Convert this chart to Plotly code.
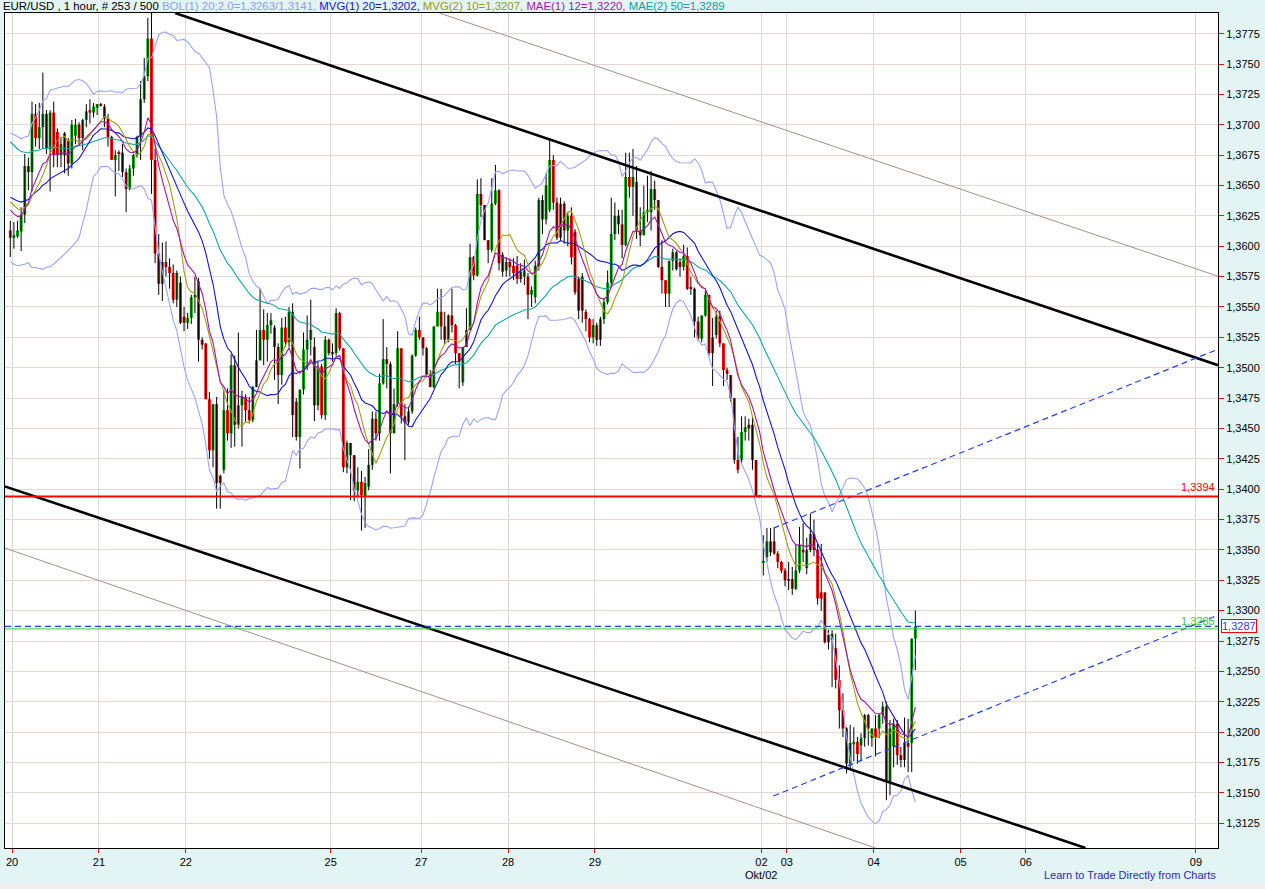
import numpy as np
import plotly.graph_objects as go

# ---------------- data (prices in 1/10000, i.e. pips) ----------------
open_p = [
    13613, 13607, 13608, 13612, 13626, 13666, 13661, 13709, 13689, 13698,
    13709, 13680, 13710, 13694, 13675, 13693, 13687, 13668, 13691, 13700,
    13689, 13704, 13712, 13710, 13714, 13717, 13715, 13705, 13690, 13671,
    13677, 13677, 13661, 13647, 13664, 13675, 13690, 13721, 13740, 13771,
    13671, 13594, 13569, 13587, 13583, 13578, 13556, 13570, 13542, 13537,
    13541, 13558, 13571, 13523, 13520, 13474, 13432, 13470, 13411, 13416,
    13465, 13446, 13502, 13453, 13469, 13476, 13465, 13457, 13484, 13506,
    13531, 13523, 13535, 13533, 13517, 13494, 13533, 13521, 13546, 13472,
    13443, 13482, 13515, 13523, 13517, 13469, 13501, 13461, 13523, 13513,
    13512, 13545, 13516, 13418, 13438, 13428, 13399, 13406, 13394, 13402,
    13420, 13458, 13446, 13487, 13507, 13503, 13446, 13470, 13516, 13460,
    13455, 13464, 13510, 13531, 13525, 13516, 13494, 13484, 13534, 13546,
    13534, 13523, 13543, 13535, 13512, 13488, 13517, 13531, 13591, 13576,
    13643, 13634, 13605, 13597, 13635, 13646, 13593, 13580, 13587, 13584,
    13584, 13573, 13575, 13575, 13560, 13558, 13584, 13638, 13622, 13630,
    13671, 13636, 13607, 13635, 13613, 13625, 13612, 13573, 13575, 13546,
    13540, 13525, 13535, 13523, 13540, 13554, 13570, 13610, 13625, 13618,
    13601, 13657, 13649, 13653, 13613, 13609, 13628, 13628, 13647, 13638,
    13583, 13572, 13561, 13588, 13595, 13587, 13583, 13592, 13566, 13565,
    13538, 13524, 13543, 13560, 13525, 13527, 13542, 13520, 13498, 13494,
    13475, 13424, 13424, 13447, 13453, 13453, 13424, 13395, 13340, 13344,
    13357, 13357, 13347, 13340, 13333, 13325, 13326, 13318, 13333, 13350,
    13335, 13350, 13363, 13350, 13315, 13315, 13274, 13276, 13269, 13243,
    13218, 13203, 13174, 13190, 13192, 13189, 13195, 13214, 13195, 13203,
    13203, 13214, 13221, 13159, 13188, 13207, 13181, 13177, 13191, 13191,
    13277,
]
high_p = [
    13621, 13620, 13621, 13632, 13676, 13673, 13719, 13717, 13718, 13743,
    13712, 13712, 13719, 13697, 13690, 13694, 13689, 13704, 13705, 13702,
    13705, 13717, 13721, 13718, 13717, 13718, 13717, 13709, 13691, 13679,
    13679, 13684, 13664, 13667, 13676, 13691, 13736, 13755, 13788, 13792,
    13680, 13610, 13603, 13604, 13590, 13585, 13580, 13575, 13550, 13545,
    13560, 13575, 13574, 13525, 13520, 13480, 13470, 13476, 13412, 13481,
    13483, 13511, 13510, 13529, 13481, 13478, 13476, 13485, 13531, 13565,
    13548, 13545, 13545, 13535, 13520, 13541, 13542, 13550, 13553, 13475,
    13482, 13529, 13543, 13556, 13525, 13505, 13503, 13526, 13524, 13520,
    13549, 13546, 13516, 13440, 13438, 13428, 13418, 13415, 13410, 13433,
    13464, 13464, 13495, 13540, 13517, 13505, 13483, 13530, 13516, 13470,
    13468, 13511, 13533, 13542, 13525, 13517, 13498, 13534, 13565, 13565,
    13546, 13544, 13565, 13536, 13512, 13517, 13549, 13602, 13592, 13655,
    13656, 13634, 13605, 13656, 13667, 13647, 13595, 13591, 13590, 13590,
    13592, 13586, 13589, 13578, 13567, 13588, 13640, 13642, 13660, 13687,
    13675, 13640, 13640, 13637, 13628, 13632, 13614, 13575, 13578, 13548,
    13541, 13540, 13537, 13542, 13557, 13580, 13640, 13636, 13630, 13630,
    13677, 13677, 13680, 13666, 13632, 13650, 13658, 13662, 13654, 13638,
    13605, 13572, 13588, 13598, 13596, 13590, 13601, 13599, 13575, 13566,
    13542, 13543, 13564, 13560, 13541, 13547, 13547, 13520, 13500, 13494,
    13475, 13443, 13460, 13460, 13458, 13460, 13424, 13395, 13362, 13368,
    13368, 13368, 13349, 13341, 13335, 13340, 13336, 13354, 13369, 13372,
    13360, 13380, 13375, 13355, 13355, 13315, 13284, 13284, 13281, 13255,
    13232, 13204, 13206, 13204, 13196, 13199, 13215, 13215, 13203, 13214,
    13215, 13225, 13225, 13210, 13211, 13210, 13188, 13212, 13211, 13277,
    13300,
]
low_p = [
    13591, 13598, 13607, 13596, 13619, 13646, 13645, 13682, 13680, 13680,
    13676, 13645, 13665, 13665, 13665, 13660, 13658, 13664, 13684, 13683,
    13679, 13698, 13701, 13706, 13708, 13715, 13698, 13682, 13671, 13641,
    13662, 13657, 13628, 13646, 13658, 13673, 13671, 13718, 13736, 13643,
    13586, 13560, 13555, 13575, 13565, 13553, 13550, 13536, 13530, 13532,
    13536, 13545, 13505, 13515, 13474, 13425, 13418, 13384, 13384, 13413,
    13440, 13434, 13435, 13450, 13435, 13455, 13455, 13455, 13484, 13506,
    13502, 13505, 13528, 13490, 13470, 13486, 13517, 13517, 13443, 13440,
    13417, 13478, 13498, 13510, 13456, 13465, 13458, 13457, 13510, 13505,
    13510, 13514, 13414, 13413, 13391, 13390, 13394, 13366, 13368, 13399,
    13416, 13440, 13440, 13486, 13483, 13413, 13446, 13468, 13454, 13424,
    13453, 13462, 13509, 13523, 13510, 13492, 13484, 13483, 13534, 13523,
    13519, 13521, 13529, 13503, 13483, 13485, 13517, 13531, 13572, 13575,
    13624, 13605, 13586, 13595, 13634, 13580, 13575, 13575, 13575, 13572,
    13569, 13570, 13568, 13540, 13550, 13553, 13580, 13610, 13618, 13628,
    13630, 13605, 13604, 13602, 13600, 13585, 13560, 13540, 13537, 13530,
    13521, 13520, 13518, 13518, 13536, 13552, 13566, 13605, 13610, 13590,
    13600, 13640, 13625, 13606, 13600, 13609, 13620, 13613, 13630, 13582,
    13561, 13550, 13550, 13580, 13580, 13575, 13580, 13564, 13560, 13525,
    13522, 13521, 13542, 13510, 13485, 13524, 13517, 13485, 13490, 13472,
    13421, 13413, 13421, 13440, 13440, 13416, 13394, 13393, 13329, 13340,
    13345, 13346, 13335, 13331, 13320, 13317, 13313, 13317, 13331, 13340,
    13330, 13348, 13345, 13305, 13300, 13273, 13268, 13237, 13236, 13203,
    13196, 13166, 13169, 13176, 13174, 13176, 13188, 13189, 13188, 13180,
    13195, 13207, 13144, 13148, 13171, 13173, 13171, 13171, 13167, 13167,
    13251,
]
close_p = [
    13607, 13609, 13613, 13626, 13666, 13661, 13709, 13689, 13698, 13709,
    13680, 13710, 13675, 13675, 13684, 13675, 13668, 13700, 13700, 13689,
    13704, 13711, 13710, 13715, 13717, 13716, 13705, 13690, 13671, 13675,
    13676, 13661, 13647, 13664, 13675, 13690, 13721, 13740, 13771, 13671,
    13594, 13569, 13587, 13583, 13578, 13556, 13578, 13537, 13537, 13541,
    13558, 13560, 13523, 13519, 13474, 13432, 13470, 13405, 13405, 13465,
    13446, 13502, 13453, 13469, 13476, 13465, 13457, 13484, 13506, 13531,
    13523, 13535, 13539, 13517, 13494, 13533, 13521, 13546, 13461, 13443,
    13482, 13515, 13523, 13531, 13469, 13500, 13461, 13523, 13512, 13511,
    13545, 13516, 13418, 13438, 13428, 13399, 13406, 13395, 13405, 13420,
    13458, 13446, 13487, 13507, 13503, 13446, 13470, 13516, 13460, 13455,
    13464, 13510, 13531, 13525, 13516, 13494, 13484, 13534, 13546, 13534,
    13523, 13543, 13535, 13512, 13505, 13517, 13531, 13591, 13576, 13643,
    13634, 13605, 13597, 13635, 13646, 13586, 13579, 13587, 13583, 13578,
    13573, 13579, 13580, 13560, 13564, 13584, 13638, 13622, 13650, 13671,
    13636, 13607, 13635, 13613, 13625, 13591, 13562, 13547, 13547, 13540,
    13525, 13535, 13523, 13540, 13554, 13570, 13610, 13625, 13618, 13601,
    13657, 13649, 13657, 13613, 13609, 13628, 13630, 13647, 13638, 13583,
    13572, 13561, 13588, 13595, 13581, 13583, 13592, 13565, 13565, 13538,
    13524, 13543, 13560, 13512, 13512, 13542, 13520, 13498, 13495, 13475,
    13424, 13416, 13447, 13451, 13450, 13424, 13394, 13394, 13341, 13357,
    13348, 13347, 13340, 13333, 13325, 13326, 13318, 13333, 13354, 13348,
    13350, 13363, 13350, 13310, 13310, 13274, 13280, 13281, 13243, 13218,
    13203, 13174, 13191, 13192, 13182, 13195, 13214, 13203, 13203, 13196,
    13214, 13221, 13159, 13203, 13207, 13181, 13177, 13191, 13188, 13277,
    13287,
]
PIP = 10000.0

# day labels on the bar-index axis
day_labels = ["20", "21", "22", "25", "27", "28", "29", "02", "03", "04", "05", "06", "09"]
day_pos = [0.5, 24.5, 48.5, 88.5, 113.5, 137.5, 161.5, 207.5, 214.5, 238.5, 262.5, 280.5, 327.5]

# indicator start values read at the first bar
sma20_seed, sma10_seed, std_seed = 1.3642, 1.3640, 0.0026
ema12_seed, ema50_seed = 1.3634, 1.3689

# horizontal levels
level_red = 1.3394
level_blue = 1.3287
level_green = 1.3285

# drawn trend lines: (bar index, price) endpoints
upper_black = ([45.5, 333.6], [1.37920, 1.35021])
lower_black = ([-1.5, 297.0], [1.34023, 1.31046])
upper_thin = ([118.5, 333.6], [1.37920, 1.35753])
lower_thin = ([-1.5, 239.0], [1.33515, 1.31046])
chan_upper = ([210.8, 333.6], [1.33679, 1.35152])
chan_lower = ([210.8, 333.6], [1.31474, 1.32963])

X_RANGE = [-1.46, 333.6]
Y_RANGE = [1.31046, 1.37920]

# ---------------- derived ----------------
o = np.array(open_p) / PIP
h = np.array(high_p) / PIP
l = np.array(low_p) / PIP
c = np.array(close_p) / PIP
n = len(c)
idx = np.arange(n)


def seeded_window(vals, win, m0, sd0):
    means, stds = [], []
    for i in range(len(vals)):
        k = min(i + 1, win)
        w = vals[i + 1 - k:i + 1]
        p = win - k
        mean = (p * m0 + w.sum()) / win
        ex2 = (p * (sd0 ** 2 + m0 ** 2) + (w ** 2).sum()) / win
        means.append(mean)
        stds.append(np.sqrt(max(ex2 - mean ** 2, 0.0)))
    return np.array(means), np.array(stds)


def ema(vals, span, seed):
    a = 2.0 / (span + 1)
    out, prev = [], seed
    for v in vals:
        prev = a * v + (1 - a) * prev
        out.append(prev)
    return np.array(out)


sma20, std20 = seeded_window(c, 20, sma20_seed, std_seed)
sma10, _ = seeded_window(c, 10, sma10_seed, 0.0)
ema12 = ema(c, 12, ema12_seed)
ema50 = ema(c, 50, ema50_seed)
bb_up = sma20 + 2 * std20
bb_dn = sma20 - 2 * std20

GREEN = "#00a000"
RED = "#ff0000"
FONT = "Liberation Sans, Arial, sans-serif"

fig = go.Figure()

# wicks
wx, wy = [], []
for i in range(n):
    wx += [i, i, None]
    wy += [l[i], h[i], None]
fig.add_trace(go.Scatter(x=wx, y=wy, mode="lines", line=dict(color="black", width=1),
                         hoverinfo="skip", showlegend=False))
# bodies
cols = [GREEN if c[i] >= o[i] else RED for i in range(n)]
fig.add_trace(go.Bar(x=idx, y=c - o, base=o, width=0.8,
                     marker=dict(color=cols, line=dict(width=0)), showlegend=False))

# indicators
fig.add_trace(go.Scatter(x=idx, y=bb_up, mode="lines", line=dict(color="#9aa4ff", width=1.1), showlegend=False))
fig.add_trace(go.Scatter(x=idx, y=bb_dn, mode="lines", line=dict(color="#9aa4ff", width=1.1), showlegend=False))
fig.add_trace(go.Scatter(x=idx, y=ema50, mode="lines", line=dict(color="#10a8a8", width=1.1), showlegend=False))
fig.add_trace(go.Scatter(x=idx, y=sma20, mode="lines", line=dict(color="#1414d8", width=1.1), showlegend=False))
fig.add_trace(go.Scatter(x=idx, y=sma10, mode="lines", line=dict(color="#a0a010", width=1.1), showlegend=False))
fig.add_trace(go.Scatter(x=idx, y=ema12, mode="lines", line=dict(color="#a814a8", width=1.1), showlegend=False))

# trend lines
for (xs, ys), col, wd, dash in [
    (upper_thin, "#a09090", 1, "solid"),
    (lower_thin, "#a09090", 1, "solid"),
    (upper_black, "black", 2.6, "solid"),
    (lower_black, "black", 2.6, "solid"),
    (chan_upper, "#1f3fff", 1.2, "6px,4px"),
    (chan_lower, "#1f3fff", 1.2, "6px,4px"),
]:
    fig.add_trace(go.Scatter(x=xs, y=ys, mode="lines", line=dict(color=col, width=wd, dash=dash),
                             hoverinfo="skip", showlegend=False))

shapes = [
    dict(type="line", xref="paper", x0=0, x1=1, yref="y", y0=level_green, y1=level_green,
         line=dict(color="#33cc33", width=1)),
    dict(type="line", xref="paper", x0=0, x1=1, yref="y", y0=level_blue, y1=level_blue,
         line=dict(color="#1f3fff", width=1.2, dash="6px,4px")),
    dict(type="line", xref="paper", x0=0, x1=1, yref="y", y0=level_red, y1=level_red,
         line=dict(color="#ff0000", width=2)),
    dict(type="rect", xref="paper", yref="paper", x0=-0.01, x1=1.05, y0=-0.0491, y1=-0.0425,
         fillcolor="#eeeeee", line=dict(width=0), layer="below"),
]

title_html = ("EUR/USD , 1 hour, # 253 / 500 "
              "<span style='color:#8f9cf5'>BOL(1) 20;2.0=1,3263/1,3141, </span>"
              "<span style='color:#1414d8'>MVG(1) 20=1,3202, </span>"
              "<span style='color:#9a9a10'>MVG(2) 10=1,3207, </span>"
              "<span style='color:#a814a8'>MAE(1) 12=1,3220, </span>"
              "<span style='color:#10a0a0'>MAE(2) 50=1,3289</span>")

annotations = [
    dict(text=title_html, xref="paper", yref="paper", x=-0.0035, y=1.0082, xanchor="left",
         yanchor="middle", showarrow=False, font=dict(size=11.4, color="black", family=FONT)),
    dict(text="1,3394", xref="x", yref="y", x=X_RANGE[1] - 0.4, y=level_red, xanchor="right",
         yanchor="bottom", yshift=1, showarrow=False, font=dict(size=11, color="#ff0000", family=FONT)),
    dict(text="1,3285", xref="x", yref="y", x=X_RANGE[1] - 0.4, y=level_green, xanchor="right",
         yanchor="bottom", showarrow=False, font=dict(size=11, color="#33cc33", family=FONT)),
    dict(text="1,3287", xref="paper", yref="y", x=1.0028, y=level_blue, xanchor="left",
         yanchor="middle", showarrow=False, bgcolor="white", bordercolor="#ff0000", borderwidth=1,
         borderpad=0, font=dict(size=11, color="#1f3fff", family=FONT)),
    dict(text="Okt/02", xref="x", yref="paper", x=day_pos[7], y=-0.0325, xanchor="center",
         yanchor="middle", showarrow=False, font=dict(size=11, color="black", family=FONT)),
    dict(text="Learn to Trade Directly from Charts", xref="paper", yref="paper", x=1.0, y=-0.0325,
         xanchor="right", yanchor="middle", showarrow=False,
         font=dict(size=11, color="#2a2ab8", family=FONT)),
]

fig.update_layout(
    width=1265, height=889, autosize=False,
    margin=dict(l=5, r=47, t=13, b=41),
    paper_bgcolor="#e3f4f4", plot_bgcolor="#ffffff",
    separators=", ",
    barmode="overlay",
    showlegend=False,
    shapes=shapes,
    annotations=annotations,
    font=dict(family=FONT, size=11, color="black"),
    xaxis=dict(range=X_RANGE, tickmode="array", tickvals=day_pos, ticktext=day_labels,
               showgrid=True, gridcolor="#d9d9d9", gridwidth=1, zeroline=False,
               showline=True, linecolor="black", linewidth=1, mirror=True,
               ticks="outside", ticklen=4, tickcolor="#ff0000", tickfont=dict(size=11)),
    yaxis=dict(range=Y_RANGE, side="right", dtick=0.0025, tick0=1.3125, tickformat=".4f",
               showgrid=True, gridcolor="#e8d6d6", gridwidth=1, zeroline=False,
               showline=True, linecolor="black", linewidth=1, mirror=True,
               ticks="outside", ticklen=5, tickcolor="#ff0000", tickfont=dict(size=11)),
)

fig.write_html("out.html", config={"displayModeBar": False},
               post_script="document.body.style.margin='0px';document.body.style.overflow='hidden';")
